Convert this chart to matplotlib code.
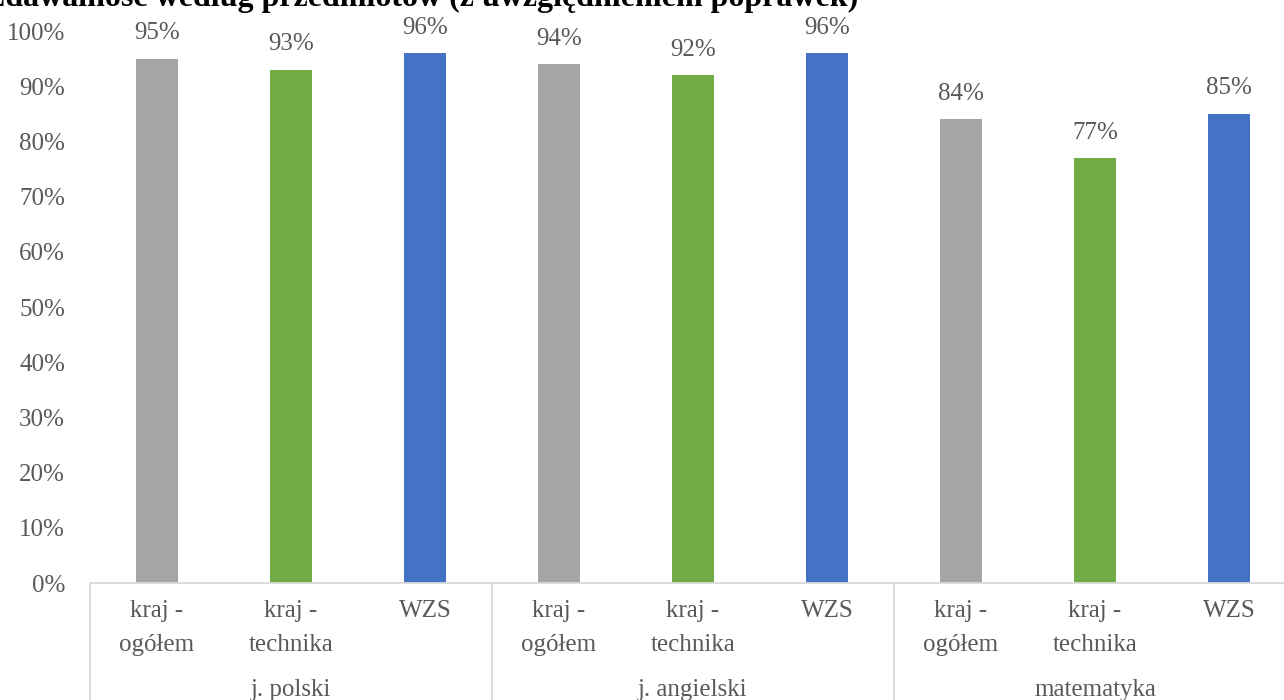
import matplotlib
matplotlib.use("Agg")
import matplotlib.pyplot as plt
import matplotlib.transforms as mtransforms

groups = ["j. polski", "j. angielski", "matematyka"]
subcats = ["kraj -\nogółem", "kraj -\ntechnika", "WZS"]
values = [95, 93, 96, 94, 92, 96, 84, 77, 85]
colors_sub = ["#A5A5A5", "#70AD47", "#4472C4"]
yticks = [0, 10, 20, 30, 40, 50, 60, 70, 80, 90, 100]
title = "Zdawalność według przedmiotów (z uwzględnieniem poprawek)"

plt.rcParams['font.family'] = ['Liberation Serif', 'DejaVu Serif']
txt_col = "#595959"
line_col = "#D9D9D9"
fs = 18

W, H = 1284, 700
fig = plt.figure(figsize=(W / 100, H / 100), dpi=100)
ax = fig.add_axes([90 / W, 1 - 583 / H, (1296 - 90) / W, (583 - 31) / H])

n = len(values)
xs = list(range(n))
cols = [colors_sub[i % 3] for i in range(n)]
ax.bar([x + 0.5 for x in xs], values, width=0.32, color=cols, zorder=2)
ax.set_xlim(0, n)
ax.set_ylim(0, 100)
ax.set_yticks(yticks)
ax.set_yticklabels([f"{t}%" for t in yticks], fontsize=fs, color=txt_col)
ax.tick_params(axis='y', length=0, pad=18)
ax.set_xticks([])
for s in ["left", "right", "top"]:
    ax.spines[s].set_visible(False)
ax.spines["bottom"].set_color(line_col)
ax.spines["bottom"].set_linewidth(1.3)

for x, v in zip(xs, values):
    ax.text(x + 0.5, v + 2.6, f"{v}%", ha='center', va='bottom', fontsize=fs, color=txt_col)

trans = mtransforms.blended_transform_factory(ax.transData, ax.transAxes)
for x in xs:
    ax.text(x + 0.5, -0.031, subcats[x % 3], transform=trans, ha='center', va='top',
            fontsize=fs, color=txt_col, linespacing=1.7)
for g, name in enumerate(groups):
    ax.text(g * 3 + 1.5, -0.193, name, transform=trans, ha='center', va='center',
            fontsize=fs, color=txt_col)
for b in [0, 3, 6, 9]:
    ax.plot([b, b], [0, -0.22], transform=trans, color=line_col, lw=1.3, clip_on=False)

fig.text(858 / W, 1 - 6 / H, title, ha='right', va='baseline', fontsize=23,
         fontweight='bold', color='black')

fig.savefig("out.png", dpi=100, facecolor='white')
